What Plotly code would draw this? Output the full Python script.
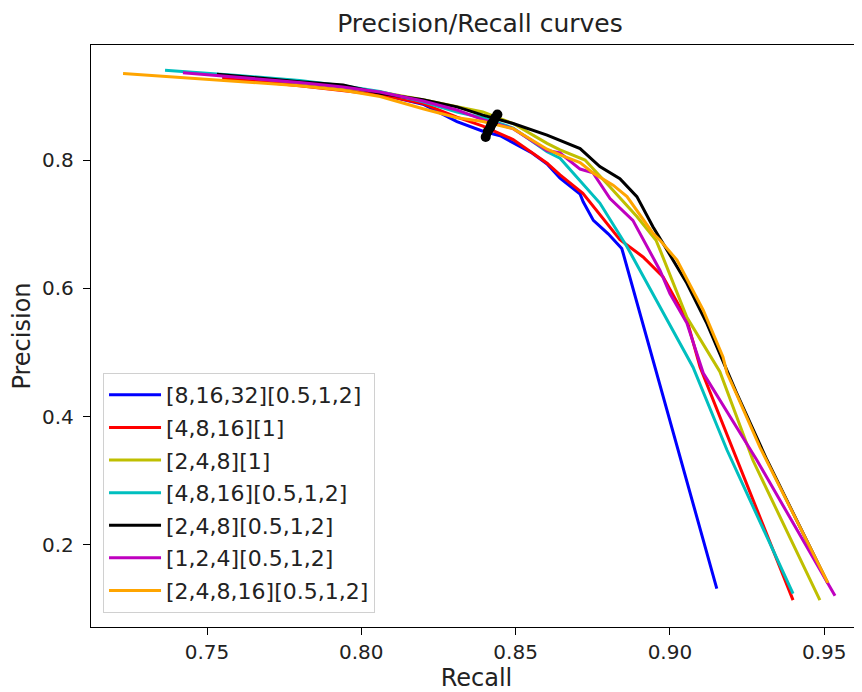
import plotly.graph_objects as go

# 各曲线的召回率/精确率数据
labels = ["[8,16,32][0.5,1,2]", "[4,8,16][1]", "[2,4,8][1]", "[4,8,16][0.5,1,2]",
          "[2,4,8][0.5,1,2]", "[1,2,4][0.5,1,2]", "[2,4,8,16][0.5,1,2]"]
colors = ["#0000ff", "#ff0000", "#bfbf00", "#00bfbf", "#000000", "#bf00bf", "#ffa500"]

recall_blue = [0.755, 0.780, 0.806, 0.820, 0.831, 0.8394, 0.845, 0.8492, 0.855, 0.8602, 0.8644,
               0.8709, 0.8719, 0.8752, 0.880, 0.8844, 0.8849, 0.9152]
precision_blue = [0.929, 0.917, 0.903, 0.887, 0.860, 0.845, 0.838, 0.827, 0.812, 0.794, 0.772,
                  0.747, 0.735, 0.706, 0.685, 0.662, 0.654, 0.132]

recall_red = [0.755, 0.780, 0.806, 0.820, 0.831, 0.8394, 0.8492, 0.8602, 0.8644, 0.8718, 0.8838,
              0.8913, 0.8978, 0.9055, 0.9098, 0.9399]
precision_red = [0.928, 0.916, 0.902, 0.888, 0.867, 0.853, 0.832, 0.795, 0.777, 0.748, 0.676,
                 0.649, 0.618, 0.551, 0.477, 0.114]

recall_yellow = [0.755, 0.780, 0.806, 0.820, 0.831, 0.8394, 0.8492, 0.8602, 0.8644, 0.8725, 0.8806,
                 0.8893, 0.8955, 0.8968, 0.9055, 0.9162, 0.9269, 0.9486]
precision_yellow = [0.932, 0.921, 0.906, 0.894, 0.883, 0.875, 0.857, 0.826, 0.816, 0.800, 0.758,
                    0.712, 0.675, 0.660, 0.555, 0.470, 0.332, 0.114]

recall_cyan = [0.7364, 0.760, 0.780, 0.794, 0.806, 0.820, 0.831, 0.8394, 0.8492, 0.8602, 0.8644,
               0.8709, 0.8773, 0.8861, 0.8968, 0.9075, 0.9185, 0.9399]
precision_cyan = [0.940, 0.932, 0.924, 0.916, 0.907, 0.891, 0.875, 0.866, 0.850, 0.813, 0.803,
                  0.768, 0.733, 0.665, 0.571, 0.477, 0.348, 0.124]

recall_black = [0.7532, 0.780, 0.7941, 0.8061, 0.8200, 0.8310, 0.8394, 0.8492, 0.8602, 0.8709,
                0.8773, 0.8838, 0.8893, 0.8945, 0.8978, 0.9023, 0.9055, 0.9120, 0.9162, 0.9195,
                0.9217, 0.9315, 0.9512]
precision_black = [0.934, 0.922, 0.917, 0.904, 0.894, 0.883, 0.870, 0.857, 0.839, 0.818,
                   0.790, 0.771, 0.743, 0.696, 0.670, 0.633, 0.608, 0.545, 0.498, 0.462,
                   0.436, 0.332, 0.140]

recall_magenta = [0.7422, 0.760, 0.780, 0.794, 0.806, 0.820, 0.831, 0.8394, 0.8492, 0.8602, 0.8644,
                  0.8709, 0.8751, 0.8806, 0.8880, 0.8968, 0.9000, 0.9055, 0.9098, 0.9108, 0.9282,
                  0.9535]
precision_magenta = [0.936, 0.929, 0.921, 0.914, 0.906, 0.892, 0.878, 0.863, 0.849, 0.815, 0.811,
                     0.786, 0.780, 0.740, 0.706, 0.628, 0.592, 0.546, 0.483, 0.468, 0.332,
                     0.121]

recall_orange = [0.7228, 0.750, 0.780, 0.7941, 0.8061, 0.8200, 0.8310, 0.8394, 0.8492, 0.8602,
                 0.8644, 0.8709, 0.8751, 0.8816, 0.8861, 0.8945, 0.8968, 0.9023, 0.9108, 0.9172,
                 0.9185, 0.9217, 0.9292, 0.9512]
precision_orange = [0.935, 0.926, 0.916, 0.909, 0.899, 0.880, 0.866, 0.860, 0.849, 0.817,
                    0.808, 0.796, 0.780, 0.761, 0.743, 0.686, 0.675, 0.644, 0.566, 0.493,
                    0.468, 0.434, 0.352, 0.141]

# 阈值0.5处的点 (黑色粗标记)
recall_thresh = [0.8403, 0.8410, 0.8418, 0.8422, 0.8428, 0.8434, 0.8441]
precision_thresh = [0.836, 0.845, 0.851, 0.856, 0.860, 0.866, 0.871]

xticks = [0.75, 0.80, 0.85, 0.90, 0.95]
yticks = [0.2, 0.4, 0.6, 0.8]

recalls = [recall_blue, recall_red, recall_yellow, recall_cyan, recall_black, recall_magenta, recall_orange]
precisions = [precision_blue, precision_red, precision_yellow, precision_cyan, precision_black,
              precision_magenta, precision_orange]

fig = go.Figure()
for r, p, name, c in zip(recalls, precisions, labels, colors):
    fig.add_trace(go.Scatter(x=r, y=p, mode="lines", name=name, legendgroup=name,
                             line=dict(color=c, width=3)))

fig.add_trace(go.Scatter(x=recall_thresh, y=precision_thresh, mode="lines+markers",
                         line=dict(color="black", width=8), marker=dict(color="black", size=10),
                         showlegend=False))

# 页面body有8px边距, 图的尺寸相应缩小
W, H = 854, 684
font = "DejaVu Sans, sans-serif"
fig.update_layout(
    width=W, height=H,
    margin=dict(l=83, r=0, t=37, b=65),
    plot_bgcolor="white", paper_bgcolor="white",
    font=dict(family=font, size=20, color="#222"),
    title=dict(text="Precision/Recall curves", x=472 / W, xanchor="center",
               y=1 - 15 / H, yanchor="middle", font=dict(size=25, color="#222")),
    legend=dict(x=0.0156, y=0.024, xanchor="left", yanchor="bottom",
                bgcolor="white", bordercolor="#d0d0d0", borderwidth=1,
                font=dict(size=22), tracegroupgap=1, itemwidth=52),
    showlegend=True,
)
fig.update_xaxes(range=[0.71241, 0.96225], tickvals=xticks, ticktext=[f"{v:.2f}" for v in xticks],
                 showgrid=False, zeroline=False, showline=True, linecolor="black", linewidth=1.3,
                 mirror=True, ticks="outside", ticklen=7, tickwidth=1.3, tickcolor="black",
                 automargin=False, title=dict(text="Recall", standoff=4))
fig.update_yaxes(range=[0.0721, 0.9794], tickvals=yticks, ticktext=[f"{v:.1f}" for v in yticks],
                 showgrid=False, zeroline=False, showline=True, linecolor="black", linewidth=1.3,
                 ticks="outside", ticklen=7, tickwidth=1.3, tickcolor="black", ticklabelstandoff=5,
                 automargin=False, title=dict(text="Precision", standoff=8))

fig.write_html("out.html")
